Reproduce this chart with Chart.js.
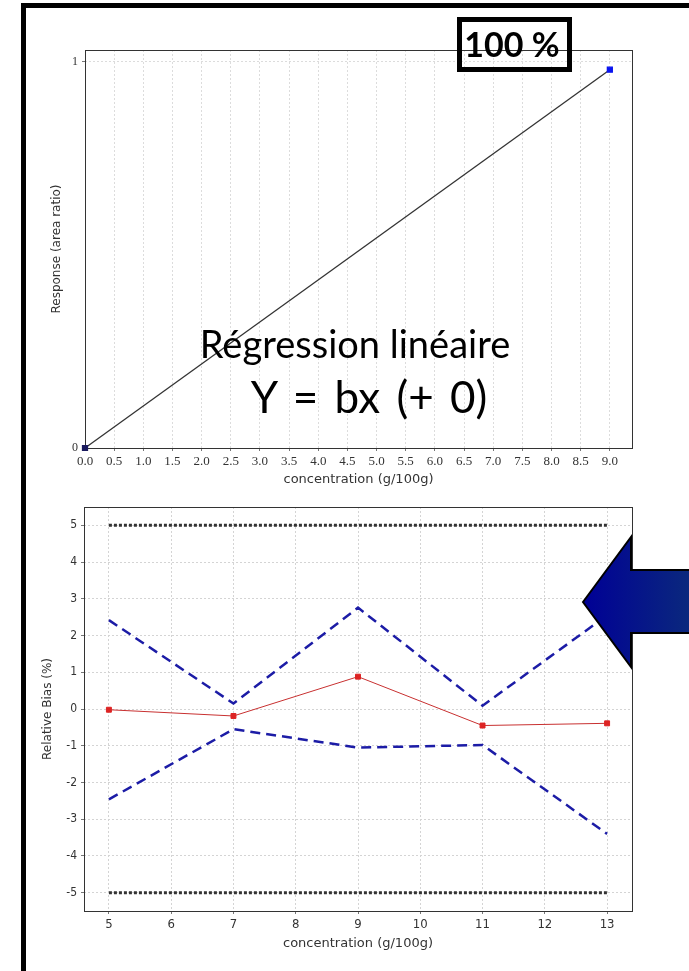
<!DOCTYPE html>
<html>
<head>
<meta charset="utf-8">
<script src="https://cdn.jsdelivr.net/npm/chart.js@4.4.1/dist/chart.umd.min.js"></script>
<style>
html, body { margin: 0; padding: 0; background: #fff; }
body { width: 689px; height: 971px; overflow: hidden; position: relative; }
canvas { position: absolute; left: 0; }
#respChart { top: 0; }
#biasChart { top: 490px; }
#overlay { position: absolute; left: 0; top: 0; z-index: 2; pointer-events: none; }
</style>
</head>
<body>
<canvas id="respChart" width="689" height="490"></canvas>
<canvas id="biasChart" width="689" height="481"></canvas>

<svg id="overlay" width="689" height="971" xmlns="http://www.w3.org/2000/svg">
  <defs>
    <linearGradient id="arrowFill" x1="0" y1="0" x2="1" y2="0">
      <stop offset="0" stop-color="#000096"/>
      <stop offset="1" stop-color="#0b2a7c"/>
    </linearGradient>
  </defs>
  <rect x="21" y="3" width="668" height="5" fill="#000"/>
  <rect x="21" y="3" width="5" height="968" fill="#000"/>
  <rect x="459.5" y="19.5" width="110" height="50" fill="none" stroke="#000" stroke-width="5"/>
  <text x="512" y="57" text-anchor="middle" font-family="Lato, sans-serif" font-weight="bold" font-size="34">100 %</text>
  <text x="355" y="358" text-anchor="middle" font-family="Lato, sans-serif" font-size="38">Régression linéaire</text>
  <text x="369" y="413" text-anchor="middle" font-family="Lato, sans-serif" font-size="44" word-spacing="5">Y = bx (+ 0)</text>
  <polygon points="583,602 631,537 631,570 695,570 695,633 631,633 631,667" fill="url(#arrowFill)" stroke="#000" stroke-width="2"/>
</svg>

<script>
// top chart: linear regression through origin
const respX = [0, 9];
const respY = [0, 0.98];
const respPointColors = ["#1a1a5e", "#0a14f0"];
const respXTicks = [0, 0.5, 1, 1.5, 2, 2.5, 3, 3.5, 4, 4.5, 5, 5.5, 6, 6.5, 7, 7.5, 8, 8.5, 9];
const respYTicks = [0, 1];

// bottom chart: relative bias with confidence limits
const concentrations = [5, 7, 9, 11, 13];
const relativeBias = [-0.02, -0.19, 0.88, -0.45, -0.39];
const upperCI = [2.42, 0.15, 2.76, 0.09, 2.55];
const lowerCI = [-2.46, -0.55, -1.05, -0.98, -3.40];
const limitX = [5, 13];
const upperLimit = [5, 5];
const lowerLimit = [-5, -5];
const biasXTicks = [5, 6, 7, 8, 9, 10, 11, 12, 13];
const biasYTicks = [-5, -4, -3, -2, -1, 0, 1, 2, 3, 4, 5];

const sansFont = "'DejaVu Sans', sans-serif";
const narrowFont = "'DejaVu Sans Condensed', 'Liberation Sans Narrow', 'DejaVu Sans', sans-serif";
const serifFont = "'Liberation Serif', 'DejaVu Serif', serif";

function toPoints(xs, ys) {
    return xs.map((x, i) => ({ x: x, y: ys[i] }));
}

function fixSize(size) {
    return function (scale) {
        if (scale.isHorizontal()) {
            scale.height = size;
        } else {
            scale.width = size;
        }
        scale.paddingLeft = 0;
        scale.paddingRight = 0;
        scale.paddingTop = 0;
        scale.paddingBottom = 0;
    };
}

function useTicks(values) {
    return function (scale) {
        scale.ticks = values.map(v => ({ value: v }));
    };
}

const plotFrame = {
    id: "plotFrame",
    beforeDatasetsDraw(chart) {
        const a = chart.chartArea;
        const ctx = chart.ctx;
        ctx.save();
        ctx.strokeStyle = "#333";
        ctx.lineWidth = 1;
        ctx.strokeRect(Math.round(a.left) + 0.5, Math.round(a.top) + 0.5,
            Math.round(a.right - a.left), Math.round(a.bottom - a.top));
        ctx.restore();
    }
};

function gridOpts(color) {
    return {
        color: color,
        lineWidth: 1,
        tickLength: 3,
        tickColor: "#777"
    };
}

new Chart(document.getElementById("respChart"), {
    type: "scatter",
    data: {
        datasets: [{
            data: toPoints(respX, respY),
            showLine: true,
            borderColor: "#333",
            borderWidth: 1.3,
            pointStyle: "rect",
            pointRadius: 3.5,
            pointBackgroundColor: respPointColors,
            pointBorderColor: respPointColors,
            clip: 4
        }]
    },
    options: {
        responsive: false,
        animation: false,
        devicePixelRatio: 1,
        layout: { padding: { left: 0, top: 50, right: 57, bottom: 0 } },
        plugins: { legend: { display: false }, tooltip: { enabled: false } },
        scales: {
            x: {
                type: "linear",
                min: 0,
                max: 9.38,
                afterBuildTicks: useTicks(respXTicks),
                afterFit: fixSize(42),
                grid: gridOpts("#dcdcdc"),
                border: { display: false, dash: [2, 2] },
                ticks: {
                    padding: 3,
                    maxRotation: 0,
                    autoSkip: false,
                    color: "#333",
                    font: { family: serifFont, size: 13 },
                    callback: v => Number(v).toFixed(1)
                },
                title: {
                    display: true,
                    text: "concentration (g/100g)",
                    color: "#333",
                    font: { family: sansFont, size: 13 },
                    padding: { top: 0, bottom: 3 }
                }
            },
            y: {
                type: "linear",
                min: 0,
                max: 1.031,
                afterBuildTicks: useTicks(respYTicks),
                afterFit: fixSize(85),
                grid: gridOpts("#dcdcdc"),
                border: { display: false, dash: [2, 2] },
                ticks: {
                    padding: 4,
                    color: "#333",
                    font: { family: serifFont, size: 12 }
                },
                title: {
                    display: true,
                    text: "Response (area ratio)",
                    color: "#333",
                    font: { family: sansFont, size: 12 },
                    padding: { top: 50, bottom: 0 }
                }
            }
        }
    },
    plugins: [plotFrame]
});

new Chart(document.getElementById("biasChart"), {
    type: "scatter",
    data: {
        datasets: [
            {
                label: "Relative bias",
                data: toPoints(concentrations, relativeBias),
                showLine: true,
                borderColor: "#c83030",
                borderWidth: 1,
                pointStyle: "rect",
                pointRadius: 3.5,
                pointBackgroundColor: "#dd2424",
                pointBorderColor: "#dd2424"
            },
            {
                label: "Upper tolerance",
                data: toPoints(concentrations, upperCI),
                showLine: true,
                borderColor: "#1c1ca6",
                borderWidth: 2.5,
                borderDash: [10, 6],
                pointRadius: 0
            },
            {
                label: "Lower tolerance",
                data: toPoints(concentrations, lowerCI),
                showLine: true,
                borderColor: "#1c1ca6",
                borderWidth: 2.5,
                borderDash: [10, 6],
                pointRadius: 0
            },
            {
                label: "Upper acceptability",
                data: toPoints(limitX, upperLimit),
                showLine: true,
                borderColor: "#333",
                borderWidth: 3,
                borderDash: [3, 2],
                pointRadius: 0
            },
            {
                label: "Lower acceptability",
                data: toPoints(limitX, lowerLimit),
                showLine: true,
                borderColor: "#333",
                borderWidth: 3,
                borderDash: [3, 2],
                pointRadius: 0
            }
        ]
    },
    options: {
        responsive: false,
        animation: false,
        devicePixelRatio: 1,
        layout: { padding: { left: 0, top: 17, right: 57, bottom: 0 } },
        plugins: { legend: { display: false }, tooltip: { enabled: false } },
        scales: {
            x: {
                type: "linear",
                min: 4.6,
                max: 13.4,
                afterBuildTicks: useTicks(biasXTicks),
                afterFit: fixSize(60),
                grid: gridOpts("#d4d4d4"),
                border: { display: false, dash: [2, 2] },
                ticks: {
                    padding: 3,
                    maxRotation: 0,
                    autoSkip: false,
                    color: "#333",
                    font: { family: narrowFont, size: 13 }
                },
                title: {
                    display: true,
                    text: "concentration (g/100g)",
                    color: "#333",
                    font: { family: sansFont, size: 13 },
                    padding: { top: 0, bottom: 20 }
                }
            },
            y: {
                type: "linear",
                min: -5.5,
                max: 5.5,
                afterBuildTicks: useTicks(biasYTicks),
                afterFit: fixSize(84),
                grid: gridOpts("#d4d4d4"),
                border: { display: false, dash: [2, 2] },
                ticks: {
                    padding: 4,
                    color: "#333",
                    font: { family: narrowFont, size: 12 }
                },
                title: {
                    display: true,
                    text: "Relative Bias (%)",
                    color: "#333",
                    font: { family: sansFont, size: 12 },
                    padding: { top: 41, bottom: 0 }
                }
            }
        }
    },
    plugins: [plotFrame]
});
</script>
</body>
</html>
